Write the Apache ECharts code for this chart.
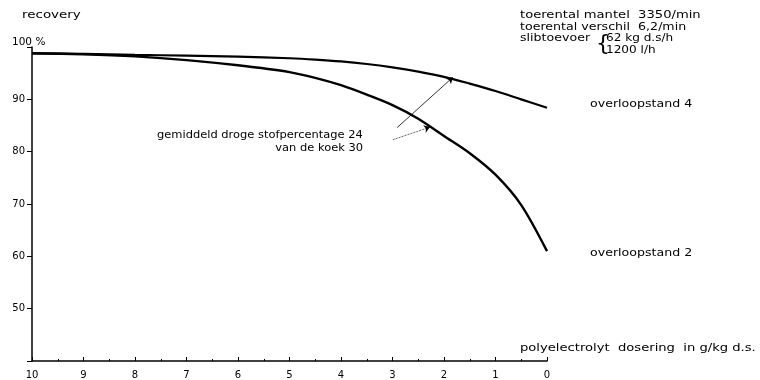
<!DOCTYPE html>
<html><head><meta charset="utf-8">
<script src="https://cdn.jsdelivr.net/npm/echarts@6/dist/echarts.min.js"></script>
<style>html,body{margin:0;padding:0;background:#fff}#c{width:760px;height:380px}</style>
</head><body><div id="c"></div>
<script>
const dosage = [0, 0.5, 1, 1.5, 2, 2.5, 3, 3.5, 4, 4.5, 5, 6, 7, 8, 9, 10];
const overloop4 = [88.4, 90.0, 91.6, 93.0, 94.3, 95.3, 96.1, 96.75, 97.25, 97.6, 97.85, 98.15, 98.35, 98.5, 98.7, 98.8];
const overloop2 = [61.0, 69.8, 75.6, 79.7, 83.0, 86.3, 88.9, 90.9, 92.7, 94.1, 95.2, 96.5, 97.5, 98.2, 98.6, 98.8];
const xTicks = [10, 9, 8, 7, 6, 5, 4, 3, 2, 1, 0];
const yTicks = [40, 50, 60, 70, 80, 90, 100];
const arrow24 = [[2.91, 84.6], [1.83, 94.2]];
const arrow30 = [[2.99, 82.3], [2.27, 84.7]];

const font = 'DejaVu Sans';
const chart = echarts.init(document.getElementById('c'));
const pair = (xs, ys) => xs.map((x, i) => [x, ys[i]]);
const txt = (x, y, text, sx, size, align) => ({
  type: 'text', x: x, y: y, scaleX: sx, silent: true,
  style: { text: text, font: (size || 10.5) + 'px ' + font, fill: '#000', align: align || 'left', verticalAlign: 'middle' }
});
chart.setOption({
  animation: false,
  grid: { left: 32, right: 213, top: 47, bottom: 19, containLabel: false, outerBoundsMode: 'none' },
  xAxis: {
    type: 'value', inverse: true, min: 0, max: 10, interval: 1,
    axisLine: { onZero: false, lineStyle: { color: '#000', width: 1.5 } },
    axisTick: { inside: true, length: 4, lineStyle: { color: '#000' } },
    minorTick: { show: true, splitNumber: 2, length: 2, lineStyle: { color: '#000' } },
    splitLine: { show: false },
    axisLabel: { color: '#000', fontFamily: font, fontSize: 10, margin: 9 }
  },
  yAxis: {
    type: 'value', min: 40, max: 100, interval: 10, position: 'left',
    axisLine: { show: true, onZero: false, lineStyle: { color: '#000', width: 1.5 } },
    axisTick: { show: true, length: 5, lineStyle: { color: '#000' } },
    splitLine: { show: false },
    axisLabel: {
      color: '#000', fontFamily: font, fontSize: 10, margin: 7,
      formatter: v => (v === 40 || v === 100) ? '' : String(v)
    }
  },
  series: [
    {
      type: 'line', name: 'overloopstand 4', data: pair(dosage, overloop4),
      smooth: 0.3, symbol: 'none',
      lineStyle: { color: '#000', width: 2.2 },
      markLine: {
        silent: true, symbol: ['none', 'arrow'], symbolSize: 6,
        lineStyle: { color: '#000', width: 0.8, type: 'solid' }, label: { show: false },
        data: [[{ coord: arrow24[0] }, { coord: arrow24[1] }]]
      }
    },
    {
      type: 'line', name: 'overloopstand 2', data: pair(dosage, overloop2),
      smooth: 0.3, symbol: 'none',
      lineStyle: { color: '#000', width: 2.4 },
      markLine: {
        silent: true, symbol: ['none', 'arrow'], symbolSize: 6,
        lineStyle: { color: '#000', width: 0.8, type: 'dotted' }, label: { show: false },
        data: [[{ coord: arrow30[0] }, { coord: arrow30[1] }]]
      }
    }
  ],
  graphic: [
    txt(12, 42, '100 %', 1.05, 10),
    txt(22, 15, 'recovery', 1.28),
    txt(520, 15, 'toerental mantel  3350/min', 1.25),
    txt(520, 27, 'toerental verschil  6,2/min', 1.2),
    txt(520, 38, 'slibtoevoer', 1.2),
    txt(596, 44, '{', 1, 22),
    txt(606, 38, '62 kg d.s/h', 1.15),
    txt(606, 50, '1200 l/h', 1.15),
    txt(157, 135, 'gemiddeld droge stofpercentage 24', 1.09),
    txt(363, 148, 'van de koek 30', 1.09, 10.5, 'right'),
    txt(590, 104, 'overloopstand 4', 1.2),
    txt(590, 253, 'overloopstand 2', 1.2),
    txt(520, 348, 'polyelectrolyt  dosering  in g/kg d.s.', 1.25)
  ]
});
</script></body></html>
